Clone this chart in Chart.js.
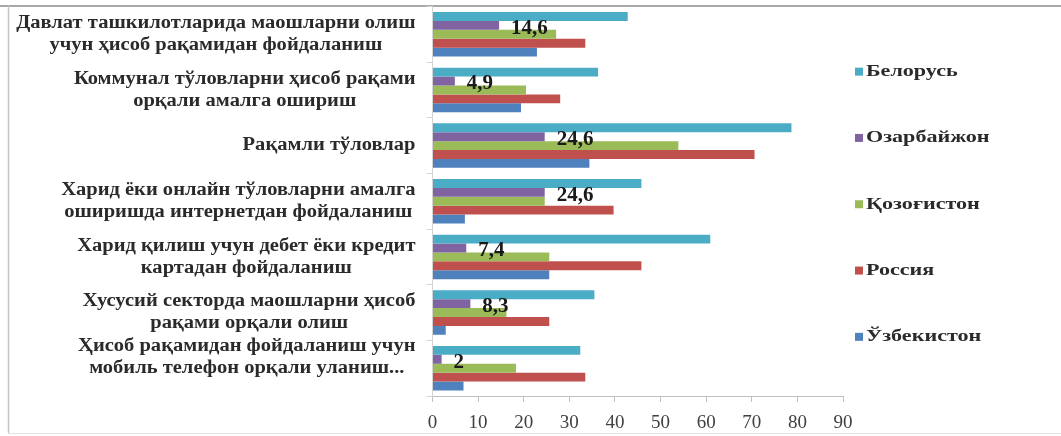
<!DOCTYPE html>
<html>
<head>
<meta charset="utf-8">
<script src="https://cdn.jsdelivr.net/npm/chart.js@4.4.1/dist/chart.umd.min.js"></script>
<style>
  html, body { margin: 0; padding: 0; background: #fff; }
  .chart-wrap { position: relative; width: 1061px; height: 436px; }
</style>
</head>
<body>
<div class="chart-wrap"><canvas id="paymentsChart"></canvas></div>
<script>
// categories (multi-line labels, top to bottom)
const categories = [
  ['Давлат ташкилотларида маошларни олиш', 'учун ҳисоб рақамидан фойдаланиш'],
  ['Коммунал тўловларни ҳисоб рақами', 'орқали амалга ошириш'],
  ['Рақамли тўловлар'],
  ['Харид ёки онлайн тўловларни амалга', 'оширишда интернетдан фойдаланиш'],
  ['Харид қилиш учун дебет ёки кредит', 'картадан фойдаланиш'],
  ['Хусусий секторда маошларни ҳисоб', 'рақами орқали олиш'],
  ['Ҳисоб рақамидан фойдаланиш учун', 'мобиль телефон орқали уланиш...', '']
];

const countries = ['Белорусь', 'Озарбайжон', 'Қозоғистон', 'Россия', 'Ўзбекистон'];

const belarus    = [42.8, 36.3, 78.7, 45.8, 60.9, 35.5, 32.4];
const azerbaijan = [14.6, 4.9, 24.6, 24.6, 7.4, 8.3, 2];
const kazakhstan = [27.1, 20.5, 53.9, 24.6, 25.6, 16.2, 18.3];
const russia     = [33.5, 28.0, 70.6, 39.7, 45.8, 25.6, 33.5];
const uzbekistan = [22.9, 19.4, 34.4, 7.1, 25.6, 2.9, 6.8];

const xTicks = [0, 10, 20, 30, 40, 50, 60, 70, 80, 90];

const colors = ['#4BACC6', '#8064A2', '#9BBB59', '#C0504D', '#4F81BD'];
const SERIF = '"Liberation Serif", "Times New Roman", serif';

// white page + thin frame round the chart
const frame = {
  id: 'frame',
  beforeDraw(chart) {
    const { ctx, width } = chart;
    ctx.save();
    ctx.fillStyle = '#fff';
    ctx.fillRect(0, 0, width, chart.height);
    ctx.strokeStyle = '#a8a8a8';
    ctx.lineWidth = 2;
    ctx.beginPath(); ctx.moveTo(0, 6); ctx.lineTo(width, 6); ctx.stroke();
    ctx.strokeStyle = '#c4c4c4';
    ctx.lineWidth = 1.5;
    ctx.beginPath(); ctx.moveTo(8.5, 6); ctx.lineTo(8.5, 433); ctx.stroke();
    ctx.strokeStyle = '#e2e2e2';
    ctx.lineWidth = 1;
    ctx.beginPath(); ctx.moveTo(8, 433.5); ctx.lineTo(width, 433.5); ctx.stroke();
    ctx.restore();
  }
};

// text stretched sideways, centred on cx
function drawStretched(ctx, text, cx, cy, sx) {
  ctx.save();
  ctx.translate(cx, cy);
  ctx.scale(sx, 1);
  ctx.fillText(text, 0, 0);
  ctx.restore();
}

// category labels: block right aligned, lines centred (like Excel)
const categoryLabels = {
  id: 'categoryLabels',
  afterDraw(chart) {
    const { ctx } = chart;
    const y = chart.scales.y;
    const lineH = 22;
    const sx = 1.14;
    ctx.save();
    ctx.font = 'bold 18px ' + SERIF;
    ctx.fillStyle = '#2a2a2a';
    ctx.textAlign = 'center';
    ctx.textBaseline = 'middle';
    const right = y.right - 17;
    categories.forEach((lines, i) => {
      const cy = y.getPixelForValue(i);
      const w = Math.max(...lines.map(l => ctx.measureText(l).width)) * sx;
      const top = cy - (lines.length - 1) * lineH / 2;
      lines.forEach((l, k) => drawStretched(ctx, l, right - w / 2, top + k * lineH, sx));
    });
    ctx.restore();
  }
};

// legend on the right
const sideLegend = {
  id: 'sideLegend',
  afterDraw(chart) {
    const { ctx, chartArea } = chart;
    const step = 66.3;
    const sx = 1.3;
    const mid = (chartArea.top + chartArea.bottom) / 2 + 3;
    const x0 = chartArea.right + 12;
    ctx.save();
    ctx.font = 'bold 17px ' + SERIF;
    ctx.textAlign = 'left';
    ctx.textBaseline = 'middle';
    chart.data.datasets.forEach((ds, i) => {
      const yy = mid + (i - 2) * step;
      ctx.fillStyle = ds.backgroundColor;
      ctx.fillRect(x0, yy - 4, 8, 8);
      ctx.fillStyle = '#2a2a2a';
      ctx.save();
      ctx.translate(x0 + 11, yy);
      ctx.scale(sx, 1);
      ctx.fillText(ds.label, 0, 0);
      ctx.restore();
    });
    ctx.restore();
  }
};

// value labels on the Озарбайжон bars
const valueLabels = {
  id: 'valueLabels',
  afterDatasetsDraw(chart) {
    const { ctx } = chart;
    const meta = chart.getDatasetMeta(1);
    ctx.save();
    ctx.font = 'bold 21px ' + SERIF;
    ctx.fillStyle = '#1a1a1a';
    ctx.textAlign = 'left';
    ctx.textBaseline = 'middle';
    meta.data.forEach((bar, i) => {
      const txt = String(azerbaijan[i]).replace('.', ',');
      ctx.fillText(txt, bar.x + 12, bar.y + 3);
    });
    ctx.restore();
  }
};

const seriesValues = [belarus, azerbaijan, kazakhstan, russia, uzbekistan];

new Chart(document.getElementById('paymentsChart'), {
  type: 'bar',
  data: {
    labels: categories,
    datasets: countries.map((name, i) => ({
      label: name,
      data: seriesValues[i],
      backgroundColor: colors[i],
      borderWidth: 0,
      categoryPercentage: 0.8,
      barPercentage: 1.0
    }))
  },
  options: {
    indexAxis: 'y',
    responsive: true,
    maintainAspectRatio: false,
    animation: false,
    layout: { padding: { top: 6.5, right: 218, bottom: 0, left: 0 } },
    plugins: {
      legend: { display: false },
      tooltip: { enabled: false }
    },
    scales: {
      x: {
        min: 0,
        max: 90,
        afterBuildTicks: (scale) => { scale.ticks = xTicks.map(v => ({ value: v })); },
        ticks: { color: '#404040', font: { family: SERIF, size: 19 }, padding: 10 },
        grid: { drawOnChartArea: false, tickLength: 6, color: '#bfbfbf' },
        border: { color: '#bfbfbf' },
        afterFit: (scale) => { scale.height = 40; }
      },
      y: {
        ticks: { display: false },
        grid: { drawOnChartArea: false, tickLength: 6, color: '#d4d4d4' },
        border: { color: '#d4d4d4' },
        afterFit: (scale) => { scale.width = 432.5; }
      }
    }
  },
  plugins: [frame, categoryLabels, sideLegend, valueLabels]
});
</script>
</body>
</html>
